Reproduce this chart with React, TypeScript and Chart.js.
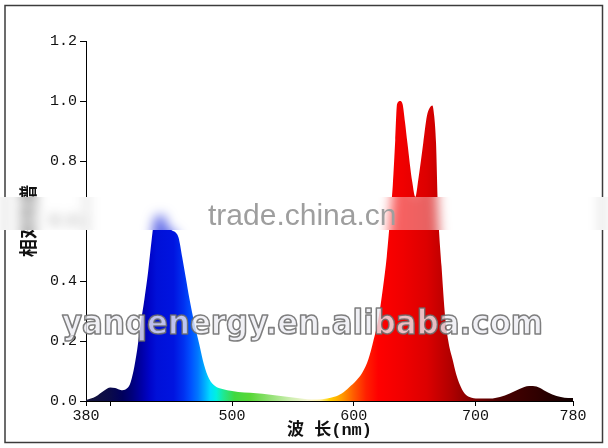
import React, { useEffect, useRef } from 'react';
import { Chart, registerables } from 'chart.js';

Chart.register(...registerables);

// ---- data ----
const wavelengths = [
  380, 388, 395, 400, 404, 409, 413, 416, 419, 422, 425, 428, 431, 434, 436, 438, 442, 445, 447, 450,
  454, 456, 459, 462, 465, 469, 473, 477, 481, 486, 492, 500, 510, 520, 530, 540, 550, 560, 570, 578,
  584, 590, 596, 602, 607, 612, 616, 620, 624, 627, 630, 632, 634, 635.5, 638, 640, 642, 644, 648, 650.5,
  653, 657, 660, 662, 664.5, 666, 667.5, 669, 672, 675, 678, 681, 684, 687, 691, 695, 702, 712, 720, 728,
  736, 744, 750, 756, 763, 770, 776, 780,
];
const intensities = [
  0.003, 0.015, 0.035, 0.045, 0.043, 0.036, 0.04, 0.055, 0.1, 0.17, 0.26, 0.34, 0.43, 0.54, 0.6, 0.615, 0.62, 0.61, 0.58, 0.57,
  0.56, 0.545, 0.48, 0.41, 0.34, 0.26, 0.19, 0.12, 0.075, 0.05, 0.04, 0.033, 0.028, 0.026, 0.022, 0.017, 0.012, 0.007, 0.005, 0.008,
  0.014, 0.025, 0.045, 0.068, 0.095, 0.14, 0.2, 0.27, 0.38, 0.48, 0.62, 0.72, 0.87, 0.99, 1.0, 0.99, 0.93, 0.86, 0.73, 0.68,
  0.74, 0.86, 0.95, 0.975, 0.985, 0.95, 0.86, 0.65, 0.45, 0.28, 0.19, 0.14, 0.09, 0.055, 0.025, 0.013, 0.008, 0.008, 0.013, 0.025,
  0.04, 0.05, 0.048, 0.036, 0.022, 0.013, 0.01, 0.01,
];

const xTickValues = [380, 400, 500, 600, 700, 780];
const xTickLabels = ['380', '', '500', '600', '700', '780'];
const yMin = 0;
const yMax = 1.2;
const yStep = 0.2;

const xTitle = '波 长(nm)';
const yTitle = '相对光谱';
const watermarkTop = 'trade.china.cn';
const watermarkBottom = 'yanqenergy.en.alibaba.com';

// spectrum colour stops (styling)
const stopNm = [
  380, 400, 410, 418, 426, 432, 438, 452, 460, 466, 472, 477, 482, 487, 493, 502, 515, 530, 548, 562, 572,
  580, 590, 600, 610, 620, 640, 660, 680, 700, 720, 750, 780,
];
const stopColor = [
  '#15153a', '#0a0a4a', '#00005c', '#00007c', '#0000a8', '#0004c8', '#0010d8', '#0014e0', '#0030f0', '#0050ff', '#0078ff',
  '#00a8ff', '#00dcff', '#00f0e0', '#20e890', '#40d840', '#58d838', '#8ee070', '#cdeeb0', '#f4f4d0', '#fff0a0',
  '#ffd000', '#ff9c00', '#ff5a00', '#ff2000', '#ff0000', '#f00000', '#dc0000', '#b00000', '#780000', '#4a0000',
  '#300000', '#120000',
];

const monoFamily = '"Liberation Mono", "Noto Sans CJK SC", monospace';

const decorPlugin = {
  id: 'decor',
  beforeDraw(chart: any) {
    const { ctx, canvas } = chart;
    ctx.save();
    ctx.fillStyle = '#ffffff';
    ctx.fillRect(0, 0, canvas.width, canvas.height);
    ctx.restore();
  },
  afterDraw(chart: any) {
    const { ctx, canvas } = chart;
    const W = canvas.width;
    // outer frame
    ctx.save();
    ctx.strokeStyle = '#3c3c3c';
    ctx.lineWidth = 1.5;
    ctx.strokeRect(5, 5.5, 597.5, 437);
    ctx.restore();

    // blurred watermark band
    const by = 197;
    const bh = 33;
    const pad = 16;
    const off = document.createElement('canvas');
    off.width = W;
    off.height = bh + 2 * pad;
    const octx = off.getContext('2d');
    if (octx) {
      octx.drawImage(canvas, 0, by - pad, W, bh + 2 * pad, 0, 0, W, bh + 2 * pad);
      ctx.save();
      ctx.beginPath();
      ctx.rect(0, by, W, bh);
      ctx.clip();
      ctx.fillStyle = '#ffffff';
      ctx.fillRect(0, by, W, bh);
      ctx.filter = 'blur(6px)';
      ctx.drawImage(off, 0, by - pad);
      ctx.filter = 'none';
      ctx.fillStyle = 'rgba(255,255,255,0.38)';
      ctx.fillRect(0, by, W, bh);
      ctx.restore();
    }

    // watermark texts
    ctx.save();
    ctx.textBaseline = 'alphabetic';
    ctx.textAlign = 'left';
    ctx.font = '30px "Liberation Sans", Arial, sans-serif';
    ctx.fillStyle = '#9e9e9e';
    ctx.fillText(watermarkTop, 208, 225, 193);

    ctx.font = 'bold 33px "DejaVu Sans", sans-serif';
    ctx.lineJoin = 'round';
    ctx.fillStyle = 'rgba(236,236,242,0.8)';
    ctx.fillText(watermarkBottom, 62, 334, 481);
    ctx.strokeStyle = 'rgba(105,105,105,0.85)';
    ctx.lineWidth = 1.6;
    ctx.strokeText(watermarkBottom, 62, 334, 481);
    ctx.restore();
  },
};

export default function App() {
  const ref = useRef<HTMLCanvasElement | null>(null);

  useEffect(() => {
    if (!ref.current) return;
    const points = wavelengths.map((w, i) => ({ x: w, y: intensities[i] }));
    const chart = new Chart(ref.current, {
      type: 'line',
      data: {
        datasets: [
          {
            data: points,
            fill: 'origin',
            borderWidth: 0,
            borderColor: 'rgba(0,0,0,0)',
            pointRadius: 0,
            cubicInterpolationMode: 'monotone',
            backgroundColor: (c: any) => {
              const ch = c.chart;
              if (!ch.chartArea || !ch.scales || !ch.scales.x) return 'rgba(0,0,0,0)';
              const xs = ch.scales.x;
              const x0 = xs.getPixelForValue(380);
              const x1 = xs.getPixelForValue(780);
              const g = ch.ctx.createLinearGradient(x0, 0, x1, 0);
              stopNm.forEach((nm, i) => g.addColorStop((nm - 380) / 400, stopColor[i]));
              return g;
            },
          },
        ],
      },
      options: {
        responsive: false,
        animation: false,
        devicePixelRatio: 1,
        layout: { padding: { left: 0, right: 35, top: 41, bottom: 0 } },
        plugins: {
          legend: { display: false },
          tooltip: { enabled: false },
        },
        scales: {
          x: {
            type: 'linear',
            min: 380,
            max: 780,
            afterBuildTicks: (scale: any) => {
              scale.ticks = xTickValues.map((v) => ({ value: v }));
            },
            afterFit: (scale: any) => {
              scale.height = 47;
            },
            ticks: {
              autoSkip: false,
              maxRotation: 0,
              padding: 1,
              color: '#111',
              font: { family: monoFamily, size: 15 },
              callback: (v: any) => {
                const i = xTickValues.indexOf(Number(v));
                return i >= 0 ? xTickLabels[i] : '';
              },
            },
            grid: { drawOnChartArea: false, drawTicks: true, tickLength: 5, color: '#000', lineWidth: 1 },
            border: { display: true, color: '#000', width: 1 },
            title: {
              display: true,
              text: xTitle,
              color: '#111',
              font: { family: monoFamily, size: 17, weight: 'bold', lineHeight: 1 },
              padding: { top: 0, bottom: 8.5 },
            },
          },
          y: {
            type: 'linear',
            min: yMin,
            max: yMax,
            afterFit: (scale: any) => {
              scale.width = 86;
            },
            ticks: {
              stepSize: yStep,
              padding: 3,
              color: '#111',
              font: { family: monoFamily, size: 15 },
              callback: (v: any) => Number(v).toFixed(1),
            },
            grid: { drawOnChartArea: false, drawTicks: true, tickLength: 6, color: '#000', lineWidth: 1 },
            border: { display: true, color: '#000', width: 1 },
            title: {
              display: true,
              text: yTitle,
              color: '#111',
              font: { family: monoFamily, size: 18, weight: 'bold', lineHeight: 1 },
              padding: { top: 21, bottom: 0 },
            },
          },
        },
      },
      plugins: [decorPlugin],
    } as any);
    return () => chart.destroy();
  }, []);

  return (
    <div style={{ position: 'absolute', left: 0, top: 0, width: 608, height: 448, background: '#fff' }}>
      <canvas ref={ref} width={608} height={448} style={{ display: 'block' }} />
    </div>
  );
}
